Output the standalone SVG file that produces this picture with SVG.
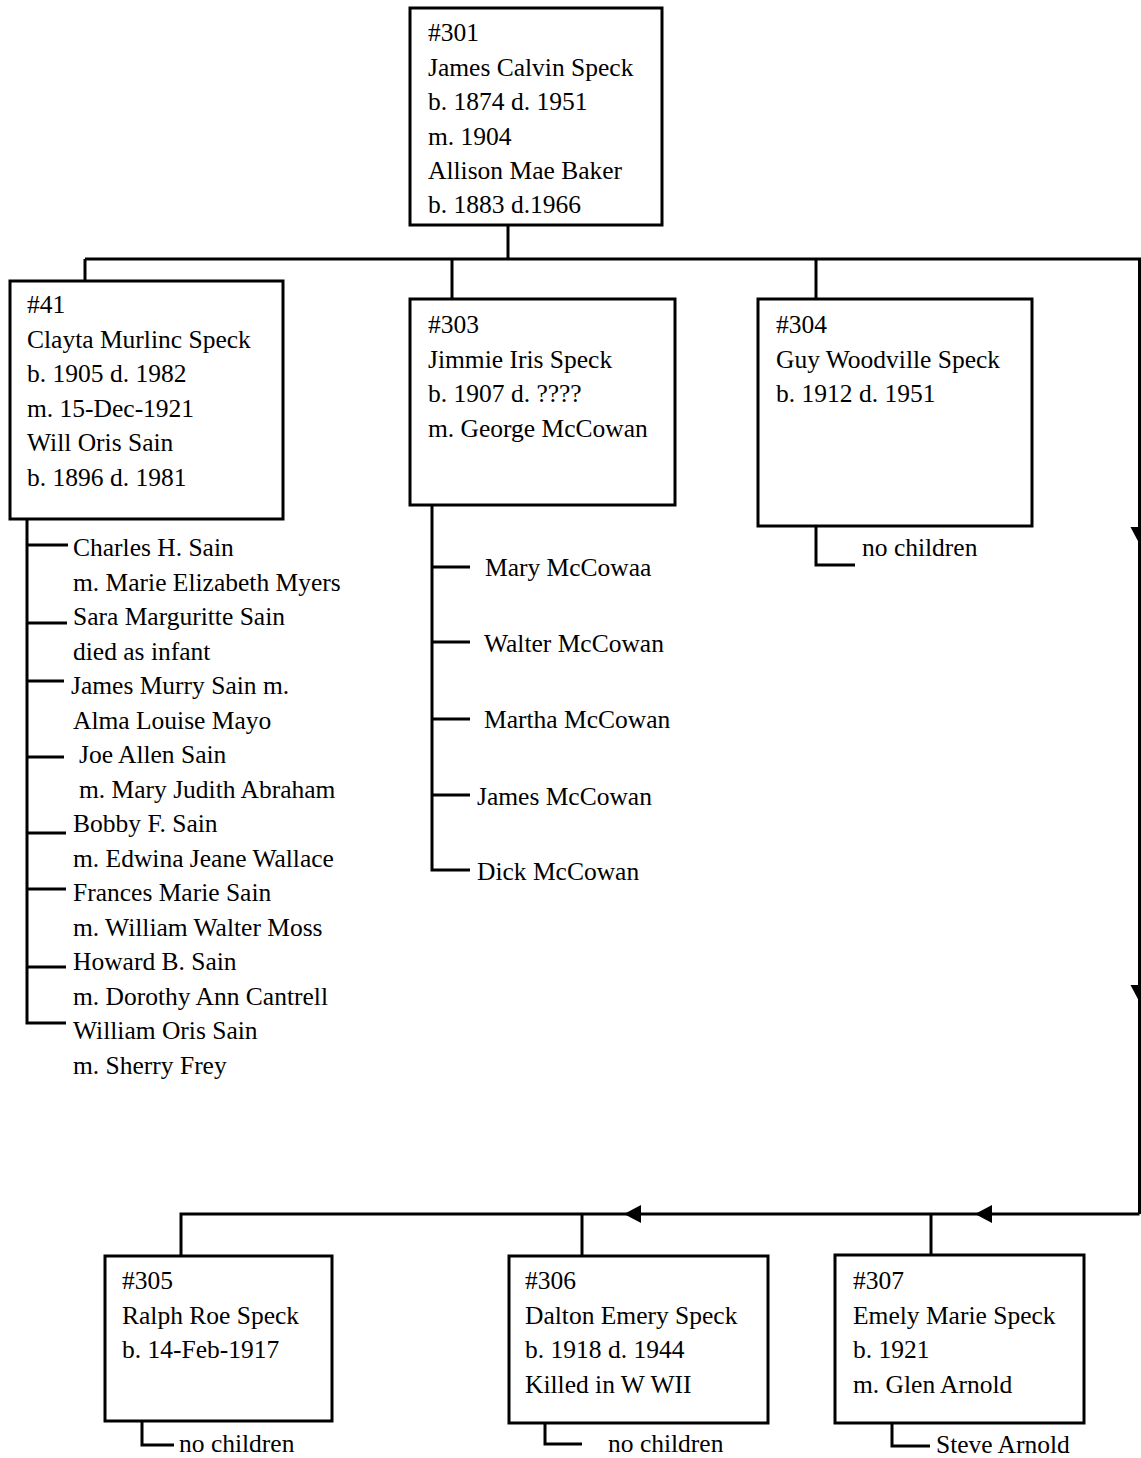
<svg xmlns="http://www.w3.org/2000/svg" xmlns:xlink="http://www.w3.org/1999/xlink" width="1141" height="1458" viewBox="0 0 1141 1458">
<style>
  .box { fill: #ffffff; stroke: #000000; stroke-width: 3; }
  .ln { fill: none; stroke: #000000; stroke-width: 3; }
  .t { font-family: "Liberation Serif", "DejaVu Serif", serif; font-size: 25.5px; fill: #000000; }
</style>
<defs>
  <path id="arr" d="M-9,0 L9,0 L0,17 Z" fill="#000000"/>
</defs>
<rect x="0" y="0" width="1141" height="1458" fill="#ffffff"/>

<g id="connectors">
  <path class="ln" d="M508,225 V259"/>
  <path class="ln" d="M85,259 H1141"/>
  <path class="ln" d="M85,259 V281"/>
  <path class="ln" d="M452,259 V299"/>
  <path class="ln" d="M816,259 V299"/>
  <path class="ln" d="M1139.5,259 V1214"/>
  <path class="ln" d="M181,1256 V1214 H1139.5"/>
  <path class="ln" d="M582,1214 V1256"/>
  <path class="ln" d="M931,1214 V1255"/>
  <use xlink:href="#arr" transform="translate(1139.5,527)"/>
  <use xlink:href="#arr" transform="translate(1139.5,985)"/>
  <use xlink:href="#arr" transform="translate(641,1214) rotate(90)"/>
  <use xlink:href="#arr" transform="translate(992,1214) rotate(90)"/>
  <path class="ln" d="M27,519 V1023 H66"/>
  <path class="ln" d="M27,545 H68"/>
  <path class="ln" d="M27,623 H67"/>
  <path class="ln" d="M27,681 H64"/>
  <path class="ln" d="M27,757 H64"/>
  <path class="ln" d="M27,833 H66"/>
  <path class="ln" d="M27,889 H66"/>
  <path class="ln" d="M27,967 H66"/>
  <path class="ln" d="M432,505 V870 H470"/>
  <path class="ln" d="M432,567 H470"/>
  <path class="ln" d="M432,642 H470"/>
  <path class="ln" d="M432,719 H470"/>
  <path class="ln" d="M432,795 H470"/>
  <path class="ln" d="M816,526 V565 H855"/>
  <path class="ln" d="M142,1421 V1445 H174"/>
  <path class="ln" d="M545,1423 V1444 H582"/>
  <path class="ln" d="M892,1423 V1446 H930"/>
</g>

<g id="n301" class="t">
  <rect class="box" x="410" y="8" width="252" height="217"/>
  <text x="428" y="41">#301</text>
  <text x="428" y="75.5">James Calvin Speck</text>
  <text x="428" y="110">b. 1874 d. 1951</text>
  <text x="428" y="144.5">m. 1904</text>
  <text x="428" y="179">Allison Mae Baker</text>
  <text x="428" y="213">b. 1883 d.1966</text>
</g>

<g id="n41" class="t">
  <rect class="box" x="10" y="281" width="273" height="238"/>
  <text x="27" y="313">#41</text>
  <text x="27" y="347.5">Clayta Murlinc Speck</text>
  <text x="27" y="382">b. 1905 d. 1982</text>
  <text x="27" y="416.5">m. 15-Dec-1921</text>
  <text x="27" y="451">Will Oris Sain</text>
  <text x="27" y="485.5">b. 1896 d. 1981</text>
</g>

<g id="n41-children" class="t">
  <text x="73" y="556">Charles H. Sain</text>
  <text x="73" y="590.5">m. Marie Elizabeth Myers</text>
  <text x="73" y="625">Sara Marguritte Sain</text>
  <text x="73" y="659.5">died as infant</text>
  <text x="71" y="694">James Murry Sain m.</text>
  <text x="73" y="728.5">Alma Louise Mayo</text>
  <text x="79" y="763">Joe Allen Sain</text>
  <text x="79" y="797.5">m. Mary Judith Abraham</text>
  <text x="73" y="832">Bobby F. Sain</text>
  <text x="73" y="866.5">m. Edwina Jeane Wallace</text>
  <text x="73" y="901">Frances Marie Sain</text>
  <text x="73" y="935.5">m. William Walter Moss</text>
  <text x="73" y="970">Howard B. Sain</text>
  <text x="73" y="1004.5">m. Dorothy Ann Cantrell</text>
  <text x="73" y="1039">William Oris Sain</text>
  <text x="73" y="1073.5">m. Sherry Frey</text>
</g>

<g id="n303" class="t">
  <rect class="box" x="410" y="299" width="265" height="206"/>
  <text x="428" y="333">#303</text>
  <text x="428" y="367.5">Jimmie Iris Speck</text>
  <text x="428" y="402">b. 1907 d. ????</text>
  <text x="428" y="436.5">m. George McCowan</text>
</g>

<g id="n303-children" class="t">
  <text x="485" y="576">Mary McCowaa</text>
  <text x="484" y="652">Walter McCowan</text>
  <text x="484" y="728">Martha McCowan</text>
  <text x="477" y="805">James McCowan</text>
  <text x="477" y="880">Dick McCowan</text>
</g>

<g id="n304" class="t">
  <rect class="box" x="758" y="299" width="274" height="227"/>
  <text x="776" y="333">#304</text>
  <text x="776" y="367.5">Guy Woodville Speck</text>
  <text x="776" y="402">b. 1912  d. 1951</text>
  <text x="862" y="556">no children</text>
</g>

<g id="n305" class="t">
  <rect class="box" x="105" y="1256" width="227" height="165"/>
  <text x="122" y="1289">#305</text>
  <text x="122" y="1323.5">Ralph Roe Speck</text>
  <text x="122" y="1358">b. 14-Feb-1917</text>
  <text x="179" y="1452">no children</text>
</g>

<g id="n306" class="t">
  <rect class="box" x="509" y="1256" width="259" height="167"/>
  <text x="525" y="1289">#306</text>
  <text x="525" y="1323.5">Dalton Emery Speck</text>
  <text x="525" y="1358">b. 1918 d. 1944</text>
  <text x="525" y="1392.5">Killed in W WII</text>
  <text x="608" y="1452">no children</text>
</g>

<g id="n307" class="t">
  <rect class="box" x="835" y="1255" width="249" height="168"/>
  <text x="853" y="1289">#307</text>
  <text x="853" y="1323.5">Emely Marie Speck</text>
  <text x="853" y="1358">b. 1921</text>
  <text x="853" y="1392.5">m. Glen Arnold</text>
  <text x="936" y="1453">Steve Arnold</text>
</g>
</svg>
